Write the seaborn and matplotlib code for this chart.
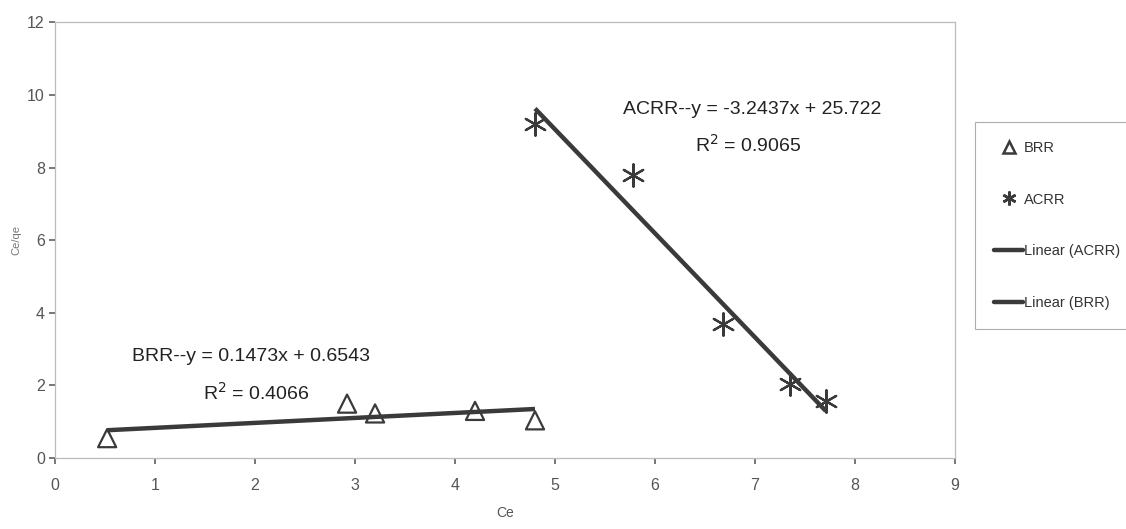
import matplotlib
matplotlib.use("Agg")
import matplotlib.pyplot as plt
import seaborn as sns
import pandas as pd
from matplotlib.lines import Line2D

# data
brr_ce = [0.52, 2.92, 3.2, 4.2, 4.8]
brr_ratio = [0.55, 1.5, 1.23, 1.3, 1.04]
acrr_ce = [4.8, 5.78, 6.68, 7.35, 7.71]
acrr_ratio = [9.2, 7.8, 3.7, 2.05, 1.56]
x_ticks = [0, 1, 2, 3, 4, 5, 6, 7, 8, 9]
y_ticks = [0, 2, 4, 6, 8, 10, 12]
acrr_eq = "ACRR--y = -3.2437x + 25.722"
acrr_r2 = "R$^2$ = 0.9065"
brr_eq = "BRR--y = 0.1473x + 0.6543"
brr_r2 = "R$^2$ = 0.4066"
legend_labels = ["BRR", "ACRR", "Linear (ACRR)", "Linear (BRR)"]

sns.set_theme(style="white")
plt.rcParams['font.family'] = ['Liberation Sans', 'DejaVu Sans']

brr = pd.DataFrame({"Ce": brr_ce, "ratio": brr_ratio})
acrr = pd.DataFrame({"Ce": acrr_ce, "ratio": acrr_ratio})

fig = plt.figure(figsize=(11.26, 5.29), dpi=100)
ax = fig.add_axes([0.049, 0.134, 0.799, 0.824])

dark = "#3a3a3a"
sns.regplot(data=acrr, x="Ce", y="ratio", ax=ax, scatter=False, ci=None,
            line_kws=dict(color=dark, lw=3.2, solid_capstyle="butt"))
sns.regplot(data=brr, x="Ce", y="ratio", ax=ax, scatter=False, ci=None,
            line_kws=dict(color=dark, lw=3.2, solid_capstyle="butt"))

sns.scatterplot(data=brr, x="Ce", y="ratio", ax=ax, marker="^", s=170,
                facecolor="none", edgecolor=dark, linewidth=1.6, zorder=3)
sns.scatterplot(data=acrr, x="Ce", y="ratio", ax=ax, marker=(6, 2, 0), s=260,
                color=dark, edgecolor=dark, linewidth=1.6, zorder=3)

ax.set_xlim(0, 9)
ax.set_ylim(0, 12)
ax.set_xticks(x_ticks)
ax.set_yticks(y_ticks)
ax.tick_params(axis="both", colors="#666666", labelsize=11.5, length=4, direction="out",
               labelcolor="#555555", bottom=True, left=True)
ax.tick_params(axis="x", pad=10)
for s in ax.spines.values():
    s.set_color("#bbbbbb")
    s.set_linewidth(0.9)
ax.set_xlabel("Ce", fontsize=10, color="#555555", labelpad=10)
ax.set_ylabel("Ce/qe", fontsize=8, color="#777777", labelpad=4)

ax.text(6.97, 9.6, acrr_eq, fontsize=14, color="#222222", ha="center", va="center")
ax.text(6.93, 8.63, acrr_r2, fontsize=14, color="#222222", ha="center", va="center")
ax.text(1.96, 2.8, brr_eq, fontsize=14, color="#222222", ha="center", va="center")
ax.text(2.01, 1.8, brr_r2, fontsize=14, color="#222222", ha="center", va="center")

handles = [
    Line2D([], [], ls="none", marker="^", markersize=8, markerfacecolor="none",
           markeredgecolor=dark, markeredgewidth=1.8),
    Line2D([], [], ls="none", marker=(6, 2, 0), markersize=10, color=dark,
           markeredgewidth=1.8),
    Line2D([], [], color=dark, lw=3.2),
    Line2D([], [], color=dark, lw=3.2),
]
leg = fig.legend(handles, legend_labels, loc="upper left", bbox_to_anchor=(0.866, 0.77),
                 fontsize=10.5, frameon=True, fancybox=False, labelspacing=2.6,
                 handlelength=2.0, handletextpad=0.05, borderpad=1.3, borderaxespad=0)
leg.get_frame().set_edgecolor("#999999")
leg.get_frame().set_linewidth(0.8)
for t in leg.get_texts():
    t.set_color("#333333")

fig.savefig("out.png", dpi=100)
